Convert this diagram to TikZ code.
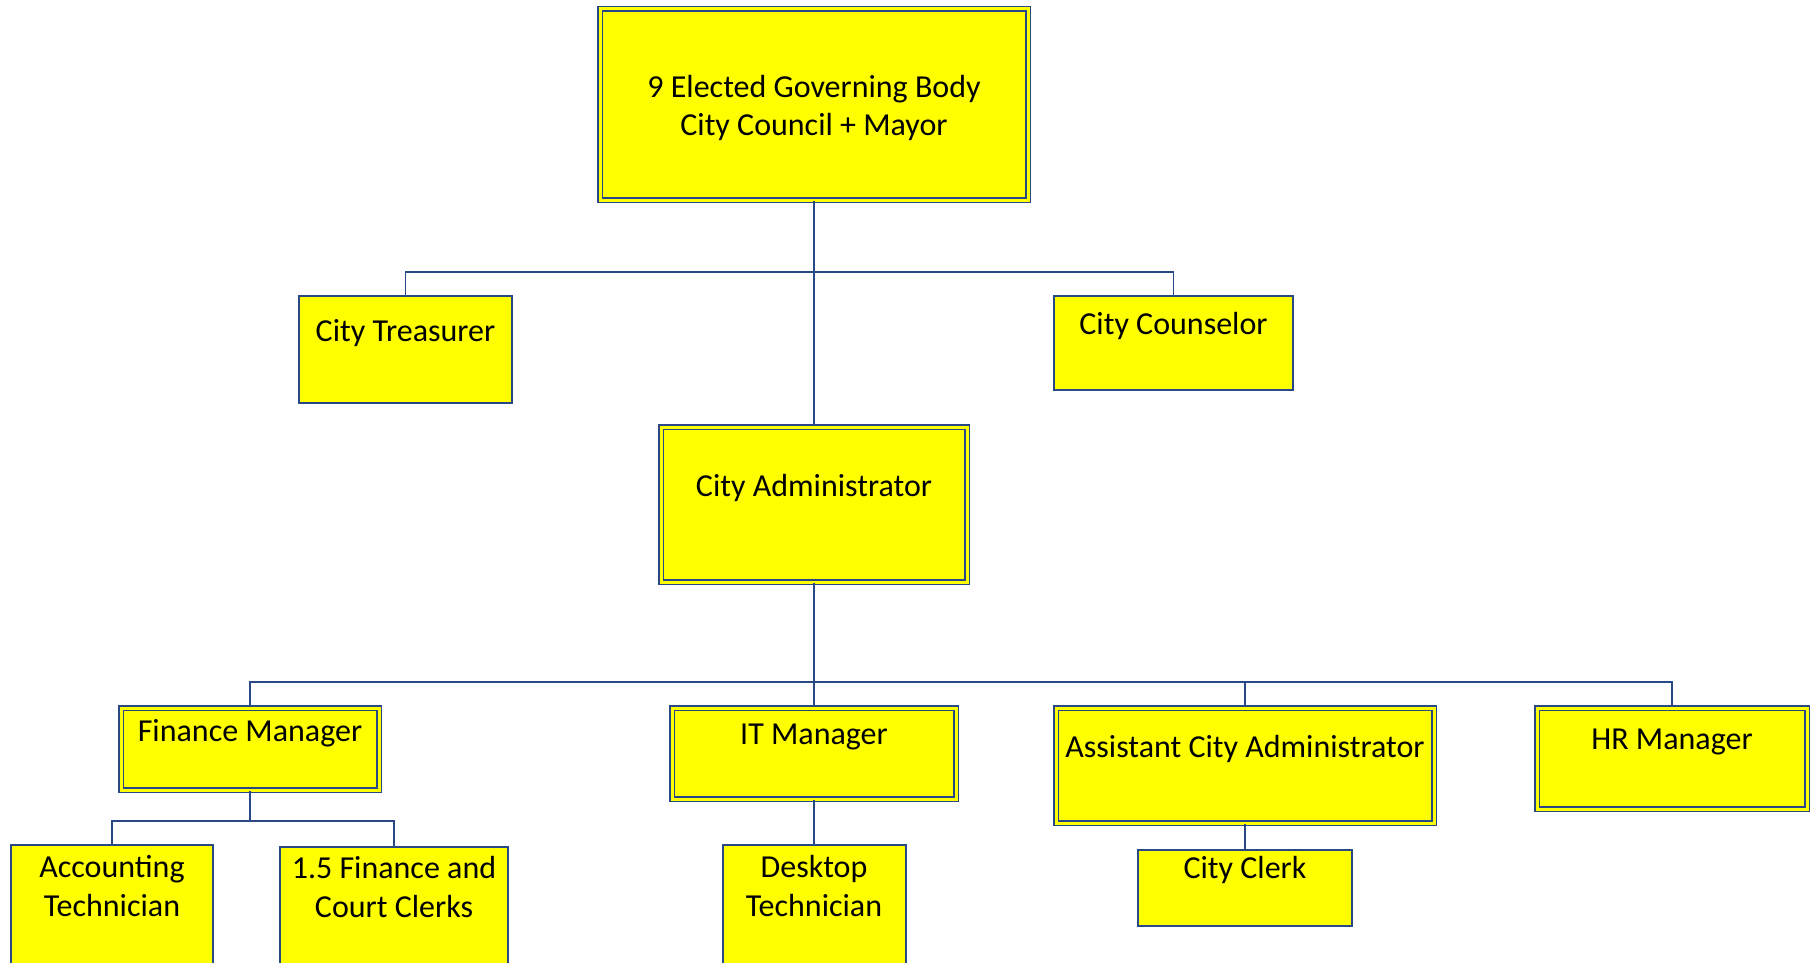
\documentclass[tikz,border=0pt]{standalone}
\usepackage{fontspec}
\setmainfont{Carlito}
\definecolor{boxblue}{RGB}{41,72,134}
\definecolor{boxyellow}{RGB}{255,255,0}
\tikzset{
  dbox/.style={draw=boxblue, line width=1.5pt, double=boxyellow, double distance=3pt, fill=boxyellow, inner sep=0pt},
  sbox/.style={draw=boxblue, line width=2pt, fill=boxyellow, inner sep=0pt},
  lbl/.style={inner sep=0pt, align=center, text=black, font=\fontsize{32}{38.5}\selectfont},
  conn/.style={draw=boxblue, line width=1.6pt}
}
\begin{document}
\begin{tikzpicture}[x=1pt,y=-1pt]
\useasboundingbox (0,0) rectangle (1813,963);
\clip (0,0) rectangle (1813,963);
% boxes
\node[dbox, minimum width=428pt, minimum height=191pt] (top) at (814,104.5) {};
\node[sbox, minimum width=213pt, minimum height=107pt] (tre) at (405.5,349.5) {};
\node[sbox, minimum width=239pt, minimum height=94pt] (cou) at (1173.5,343) {};
\node[dbox, minimum width=306pt, minimum height=155pt] (adm) at (814,504.5) {};
\node[dbox, minimum width=258pt, minimum height=82pt] (fin) at (250,749) {};
\node[dbox, minimum width=284pt, minimum height=91pt] (itm) at (814,753.5) {};
\node[dbox, minimum width=378pt, minimum height=115pt] (aca) at (1245,765.5) {};
\node[dbox, minimum width=270pt, minimum height=101pt] (hrm) at (1672,758.5) {};
\node[sbox, minimum width=202pt, minimum height=154pt] (acc) at (112,922) {};
\node[sbox, minimum width=228pt, minimum height=152pt] (clk) at (394,923) {};
\node[sbox, minimum width=183pt, minimum height=154pt] (dsk) at (814,922) {};
\node[sbox, minimum width=214pt, minimum height=76pt] (ccl) at (1245,888) {};
% texts
\node[lbl] (ttop) at (814,108) {9 Elected Governing Body\\City Council + Mayor};
\node[lbl] (ttre) at (405.5,333) {City Treasurer};
\node[lbl] (tcou) at (1173.5,326) {City Counselor};
\node[lbl] (tadm) at (814,488) {City Administrator};
\node[lbl] (tfin) at (250,733) {Finance Manager};
\node[lbl] (titm) at (814,737) {IT Manager};
\node[lbl] (taca) at (1245,749) {Assistant City Administrator};
\node[lbl] (thrm) at (1672,742) {HR Manager};
\node[lbl] (tacc) at (112,886) {Accounting\\Technician};
\node[lbl] (tclk) at (394,887) {1.5 Finance and\\Court Clerks};
\node[lbl] (tdsk) at (814,886) {Desktop\\Technician};
\node[lbl] (tccl) at (1245,870) {City Clerk};
% junctions
\coordinate (j1) at (814,272);
\coordinate (j2) at (814,682);
\coordinate (j3) at (250,821);
% connectors
\draw[conn] (top.south) -- (adm.north);
\draw[conn] (tre.north) |- (j1) -| (cou.north);
\draw[conn] (adm.south) -- (itm.north);
\draw[conn] (fin.north) |- (j2) -| (hrm.north);
\draw[conn] (j2) -| (aca.north);
\draw[conn] (fin.south) -- (j3);
\draw[conn] (acc.north) |- (j3) -| (clk.north);
\draw[conn] (itm.south) -- (dsk.north);
\draw[conn] (aca.south) -- (ccl.north);
\end{tikzpicture}
\end{document}
